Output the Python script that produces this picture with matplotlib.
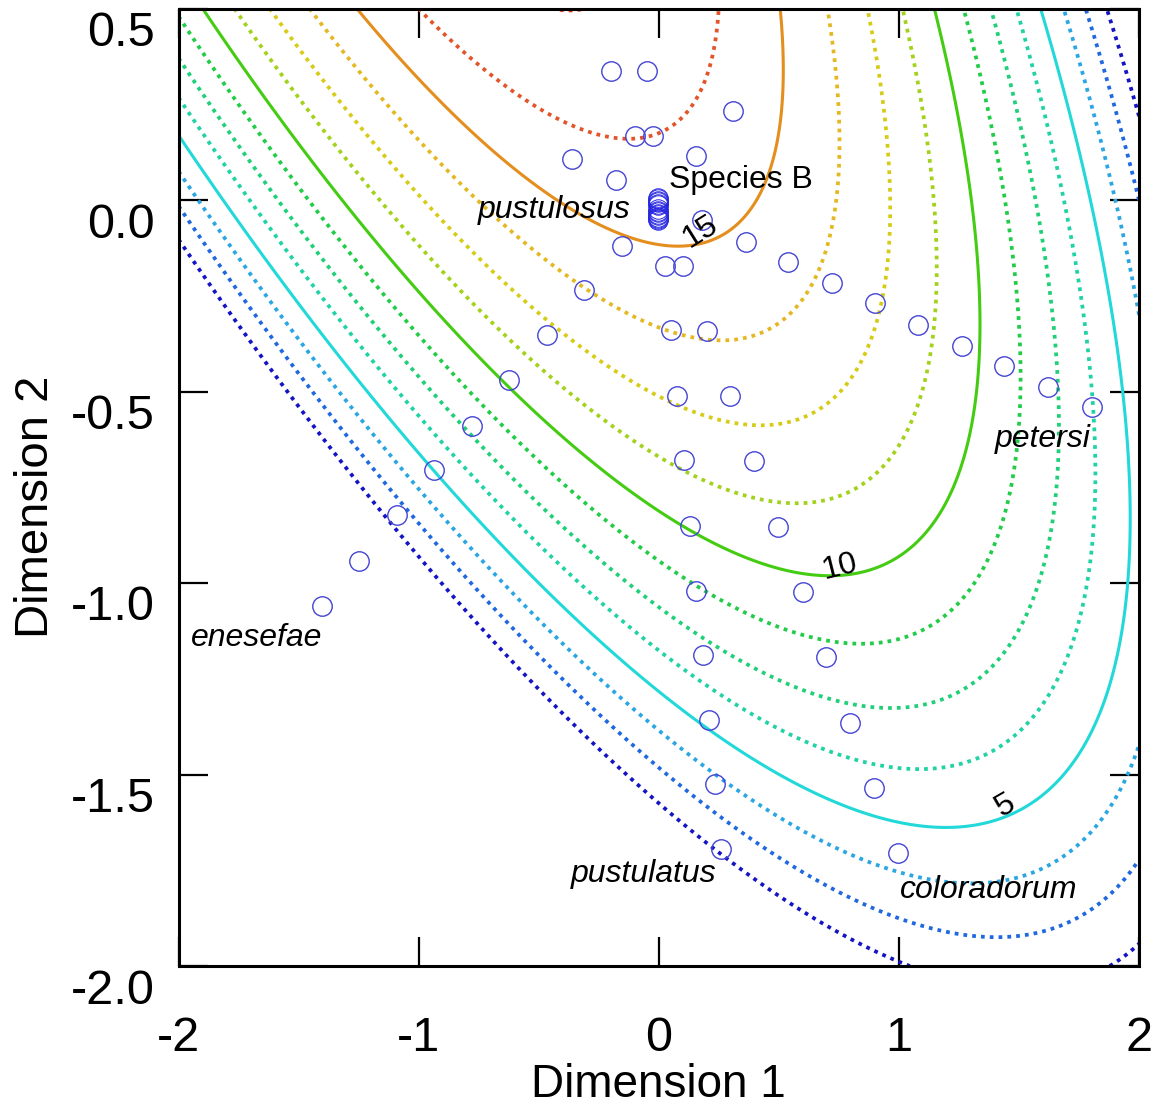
import numpy as np
import matplotlib
matplotlib.use("Agg")
import matplotlib.pyplot as plt
from matplotlib.transforms import ScaledTranslation

plt.rcParams['font.family'] = ['Liberation Sans', 'DejaVu Sans']
plt.rcParams['axes.unicode_minus'] = False

# ---- fitted quadratic surface coefficients: f = c0 + c1 x + c2 y + c3 x^2 + c4 xy + c5 y^2
surface_coef = [15.56, -0.055, 4.465, -3.238, -4.760, -2.934]

# ---- contour levels, colours, styles
levels = [1.25, 2.5, 3.75, 5, 6.25, 7.5, 8.75, 10, 11.25, 12.5, 13.75, 15, 16.25, 17.5]
level_colors = ['#1414c4', '#2068e0', '#2aa6e2', '#22d8d8', '#20d2a4', '#20d078', '#22cc48',
                '#44cc12', '#a2d21c', '#d6cc18', '#e4b822', '#e48e1e', '#e4542a', '#e2301e']
solid_levels = [5, 10, 15]

# ---- individual points
pts_x = [-0.199, -0.049, 0.309, -0.099, -0.024, -0.361, 0.155, -0.178, 0.180, -0.153,
         0.026, 0.101, 0.364, 0.539, -0.311, -0.465, 0.051, 0.201, -0.623, 0.076,
         0.297, 0.105, 0.397, 0.130, 0.497, 0.722, 0.901, 1.080, 1.263, 1.438,
         1.621, 1.805, -0.778, -0.936, -1.090, -1.248, -1.402, 0.155, 0.601, 0.185,
         0.697, 0.210, 0.797, 0.234, 0.897, 0.259, 0.997]
pts_y = [0.337, 0.337, 0.232, 0.167, 0.167, 0.107, 0.115, 0.052, -0.052, -0.120,
         -0.172, -0.172, -0.110, -0.162, -0.235, -0.352, -0.339, -0.342, -0.470, -0.512,
         -0.512, -0.679, -0.681, -0.851, -0.854, -0.217, -0.269, -0.326, -0.381, -0.433,
         -0.488, -0.540, -0.590, -0.705, -0.822, -0.943, -1.060, -1.021, -1.024, -1.188,
         -1.193, -1.358, -1.366, -1.525, -1.535, -1.695, -1.705]

# Species B cluster
sb_x = [-0.003] * 15
sb_y = [0.006, 0.002, -0.002, -0.006, -0.010, -0.014,
        -0.024, -0.028, -0.032, -0.036, -0.040, -0.044, -0.047, -0.049, -0.051]

# labels
species_names = ['pustulosus', 'petersi', 'enesefae', 'pustulatus', 'coloradorum']
species_x = [-0.753, 1.401, -1.948, -0.365, 1.005]
species_y = [-0.047, -0.645, -1.1645, -1.781, -1.8225]
speciesB_label = ('Species B', 0.043, 0.031)
clabel_text = ['15', '10', '5']
clabel_x = [0.172, 0.755, 1.442]
clabel_y = [-0.0836, -0.958, -1.580]
clabel_rot = [32, 14, 30]

xticks = [-2, -1, 0, 1, 2]
yticks = [0.5, 0.0, -0.5, -1.0, -1.5, -2.0]

# ---- figure
W, H = 1156, 1109
fig = plt.figure(figsize=(W / 100, H / 100), dpi=100)
ax = fig.add_axes([178.5 / W, 1 - 966 / H, (1139 - 178.5) / W, (966 - 8.5) / H])

gx = np.linspace(-2, 2, 500)
gy = np.linspace(-2, 0.5, 400)
X, Y = np.meshgrid(gx, gy)
c0, c1, c2, c3, c4, c5 = surface_coef
Z = c0 + c1 * X + c2 * Y + c3 * X ** 2 + c4 * X * Y + c5 * Y ** 2

styles = ['solid' if lv in solid_levels else (0, (1.0, 1.35)) for lv in levels]
widths = [2.2 if lv in solid_levels else 2.7 for lv in levels]
ax.contour(X, Y, Z, levels=levels, colors=level_colors, linestyles=styles, linewidths=widths)

ax.plot(pts_x, pts_y, 'o', ms=14, mfc='none', mec='#4444d4', mew=1.0, zorder=5)
ax.plot(sb_x, sb_y, 'o', ms=14, mfc='none', mec='#2626e0', mew=0.7, zorder=5)

for name, x, y in zip(species_names, species_x, species_y):
    ax.text(x, y, name, style='italic', fontsize=23, ha='left', va='baseline', zorder=6)
ax.text(speciesB_label[1], speciesB_label[2], speciesB_label[0], fontsize=23,
        ha='left', va='baseline', zorder=6)
for t, x, y, r in zip(clabel_text, clabel_x, clabel_y, clabel_rot):
    ax.text(x, y, t, fontsize=23, rotation=r, ha='center', va='center',
            rotation_mode='anchor', zorder=6)

ax.set_xlim(-2, 2)
ax.set_ylim(-2, 0.5)
ax.set_xticks(xticks)
ax.set_xticklabels([str(v) for v in xticks])
ax.set_yticks(yticks)
ax.set_yticklabels(['%.1f' % v for v in yticks])
ax.tick_params(direction='in', length=21, width=1.6, top=True, right=True,
               labelsize=35)
ax.tick_params(axis='x', pad=36)
ax.tick_params(axis='y', pad=17)
for s in ax.spines.values():
    s.set_linewidth(2.2)

off = ScaledTranslation(0, -0.2, fig.dpi_scale_trans)
for lbl in ax.get_yticklabels():
    lbl.set_transform(lbl.get_transform() + off)

ax.text(0.4997, -0.1245, 'Dimension 1', transform=ax.transAxes, fontsize=33,
        ha='center', va='center')
ax.text(-0.148, 0.48, 'Dimension 2', transform=ax.transAxes, fontsize=34,
        ha='center', va='center', rotation=90)

fig.savefig('out.png', dpi=100)
